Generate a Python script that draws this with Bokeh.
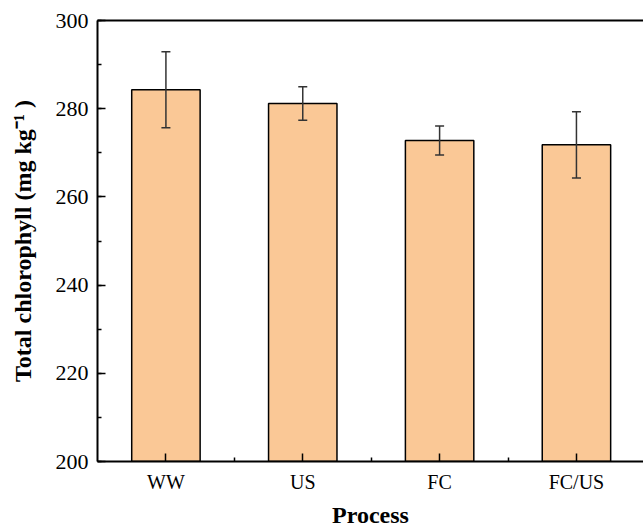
from bokeh.embed import file_html
from bokeh.models import ColumnDataSource, FixedTicker, LinearAxis, Range1d, SingleIntervalTicker
from bokeh.plotting import figure
from bokeh.resources import INLINE

# Total chlorophyll content per process (mean and standard deviation)
processes = ["WW", "US", "FC", "FC/US"]
chlorophyll = [284.3, 281.2, 272.8, 271.8]
chlorophyll_sd = [8.6, 3.8, 3.3, 7.5]

positions = list(range(1, len(processes) + 1))
lower = [m - s for m, s in zip(chlorophyll, chlorophyll_sd)]
upper = [m + s for m, s in zip(chlorophyll, chlorophyll_sd)]

source = ColumnDataSource(dict(x=positions, top=chlorophyll, lower=lower, upper=upper))

SERIF = "Liberation Serif"

p = figure(
    width=643, height=530,
    x_range=Range1d(0.5, 4.49), y_range=Range1d(200, 300),
    output_backend="svg", toolbar_location=None,
    min_border_left=97, min_border_right=0, min_border_top=20, min_border_bottom=67,
    x_axis_location=None, y_axis_location=None,
)
p.outline_line_color = None
p.xgrid.visible = False
p.ygrid.visible = False
p.background_fill_color = "white"
p.border_fill_color = "white"

p.vbar(x="x", width=0.5, bottom=200, top="top", source=source,
       fill_color="#FAC896", line_color="black", line_width=1.5)

# Error bars: stems and caps
err_color = "#333333"
p.segment(x0="x", y0="lower", x1="x", y1="upper", source=source,
          line_color=err_color, line_width=1.5)
p.scatter(x="x", y="upper", source=source, marker="dash", size=9,
          line_color=err_color, line_width=1.5)
p.scatter(x="x", y="lower", source=source, marker="dash", size=9,
          line_color=err_color, line_width=1.5)

# Bottom axis with category names
xaxis = LinearAxis(
    ticker=FixedTicker(ticks=positions, minor_ticks=[1.5, 2.5, 3.5, 4.5]),
    major_label_overrides={x: name for x, name in zip(positions, processes)},
    axis_label="Process",
)
# Left axis
yaxis = LinearAxis(
    ticker=SingleIntervalTicker(interval=20, num_minor_ticks=2),
    axis_label="Total chlorophyll (mg kg\u207b\u00b9 )",
)
for ax in (xaxis, yaxis):
    ax.axis_line_width = 2
    ax.axis_line_color = "black"
    ax.major_tick_in = 8
    ax.major_tick_out = 0
    ax.minor_tick_in = 4
    ax.minor_tick_out = 0
    ax.major_tick_line_width = 1.5
    ax.minor_tick_line_width = 1.5
    ax.major_tick_line_color = "black"
    ax.minor_tick_line_color = "black"
    ax.major_label_text_font = SERIF
    ax.major_label_text_color = "black"
    ax.major_label_standoff = 9
    ax.axis_label_text_font = SERIF
    ax.axis_label_text_font_size = "24px"
    ax.axis_label_text_font_style = "bold"
    ax.axis_label_text_color = "black"
xaxis.major_label_text_font_size = "20px"
yaxis.major_label_text_font_size = "22px"
xaxis.axis_label_standoff = 6
yaxis.axis_label_standoff = 17
p.add_layout(xaxis, "below")
p.add_layout(yaxis, "left")

# Top frame line
top_axis = LinearAxis(ticker=FixedTicker(ticks=[]), major_label_text_font_size="0px",
                      major_label_standoff=0, major_tick_in=0, major_tick_out=0,
                      minor_tick_in=0, minor_tick_out=0,
                      axis_line_width=2, axis_line_color="black")
p.add_layout(top_axis, "above")

open("out.html", "w").write(file_html(p, INLINE))
